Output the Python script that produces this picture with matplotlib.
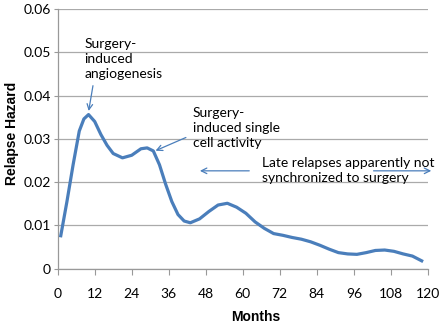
import matplotlib
matplotlib.use("Agg")
import matplotlib.pyplot as plt
import numpy as np

# values
months = [1, 3, 5, 7, 8.5, 10, 12, 14, 16, 18, 21, 24, 27, 29, 31, 33, 35, 37,
          39, 41, 43, 46, 49, 52, 55, 58, 61, 64, 67, 70, 73, 76, 79, 82, 85,
          88, 91, 94, 97, 100, 103, 106, 109, 112, 115, 118]
hazard = [0.0076, 0.0155, 0.0240, 0.0318, 0.0346, 0.0356, 0.0340, 0.0310,
          0.0285, 0.0266, 0.0256, 0.0262, 0.0277, 0.0279, 0.0272, 0.0240,
          0.0195, 0.0155, 0.0125, 0.0110, 0.0106, 0.0115, 0.0132, 0.0147,
          0.0151, 0.0142, 0.0128, 0.0108, 0.0093, 0.0081, 0.0077, 0.0072,
          0.0068, 0.0062, 0.0054, 0.0045, 0.0037, 0.0034, 0.0033, 0.0037,
          0.0042, 0.0043, 0.0040, 0.0034, 0.0029, 0.0018]
xticks = list(range(0, 121, 12))
yticks = [0, 0.01, 0.02, 0.03, 0.04, 0.05, 0.06]
ylabels = ["0", "0.01", "0.02", "0.03", "0.04", "0.05", "0.06"]

blue = "#4A7EBB"
txtfont = "Lato"

fig = plt.figure(figsize=(4.42, 3.28), dpi=100)
ax = fig.add_axes([0.1305, 0.181, 0.8375, 0.7916])

ax.plot(months, hazard, color=blue, lw=2.3, solid_joinstyle="round", zorder=3)

ax.set_xlim(0, 120)
ax.set_ylim(0, 0.06)
ax.set_xticks(xticks)
ax.set_yticks(yticks)
ax.set_xticklabels([str(t) for t in xticks], fontfamily=txtfont, fontsize=10)
ax.set_yticklabels(ylabels, fontfamily=txtfont, fontsize=10)
ax.tick_params(axis="x", direction="out", length=4, width=0.8, color="#999999", pad=10)
ax.tick_params(axis="y", direction="out", length=3, width=0.8, color="#999999", pad=2)
ax.grid(axis="y", color="#AAAAAA", lw=0.9)
ax.set_axisbelow(True)
for s in ["top", "right"]:
    ax.spines[s].set_visible(False)
for s in ["left", "bottom"]:
    ax.spines[s].set_color("#999999")
    ax.spines[s].set_linewidth(0.9)

ax.set_xlabel("Months", fontfamily="Liberation Sans", fontweight="bold", fontsize=10, va="center")
ax.xaxis.set_label_coords(0.535, -0.185)
ax.set_ylabel("Relapse Hazard", fontfamily="Liberation Sans", fontweight="bold", fontsize=10, va="center")
ax.yaxis.set_label_coords(-0.123, 0.52)

arrow = dict(arrowstyle="->", color=blue, lw=0.9)
ax.annotate("Surgery-\ninduced\nangiogenesis", xy=(9.9, 0.0358), xytext=(8.7, 0.0484),
            ha="left", va="center", fontfamily=txtfont, fontsize=10, linespacing=1.3,
            arrowprops=dict(arrow, relpos=(0.12, 0.0)))
ax.annotate("Surgery-\ninduced single\ncell activity", xy=(30.9, 0.0270), xytext=(43.8, 0.0325),
            ha="left", va="center", fontfamily=txtfont, fontsize=10, linespacing=1.3,
            arrowprops=dict(arrow, relpos=(-0.05, 0.3)))
ax.text(66.2, 0.0226, "Late relapses apparently not\nsynchronized to surgery",
        ha="left", va="center", fontfamily=txtfont, fontsize=10, linespacing=1.3)
ax.annotate("", xy=(45.2, 0.0226), xytext=(63, 0.0226), arrowprops=arrow)
ax.annotate("", xy=(122, 0.0226), xytext=(101.5, 0.0226), arrowprops=arrow,
            annotation_clip=False)

fig.savefig("out.png", dpi=100)
